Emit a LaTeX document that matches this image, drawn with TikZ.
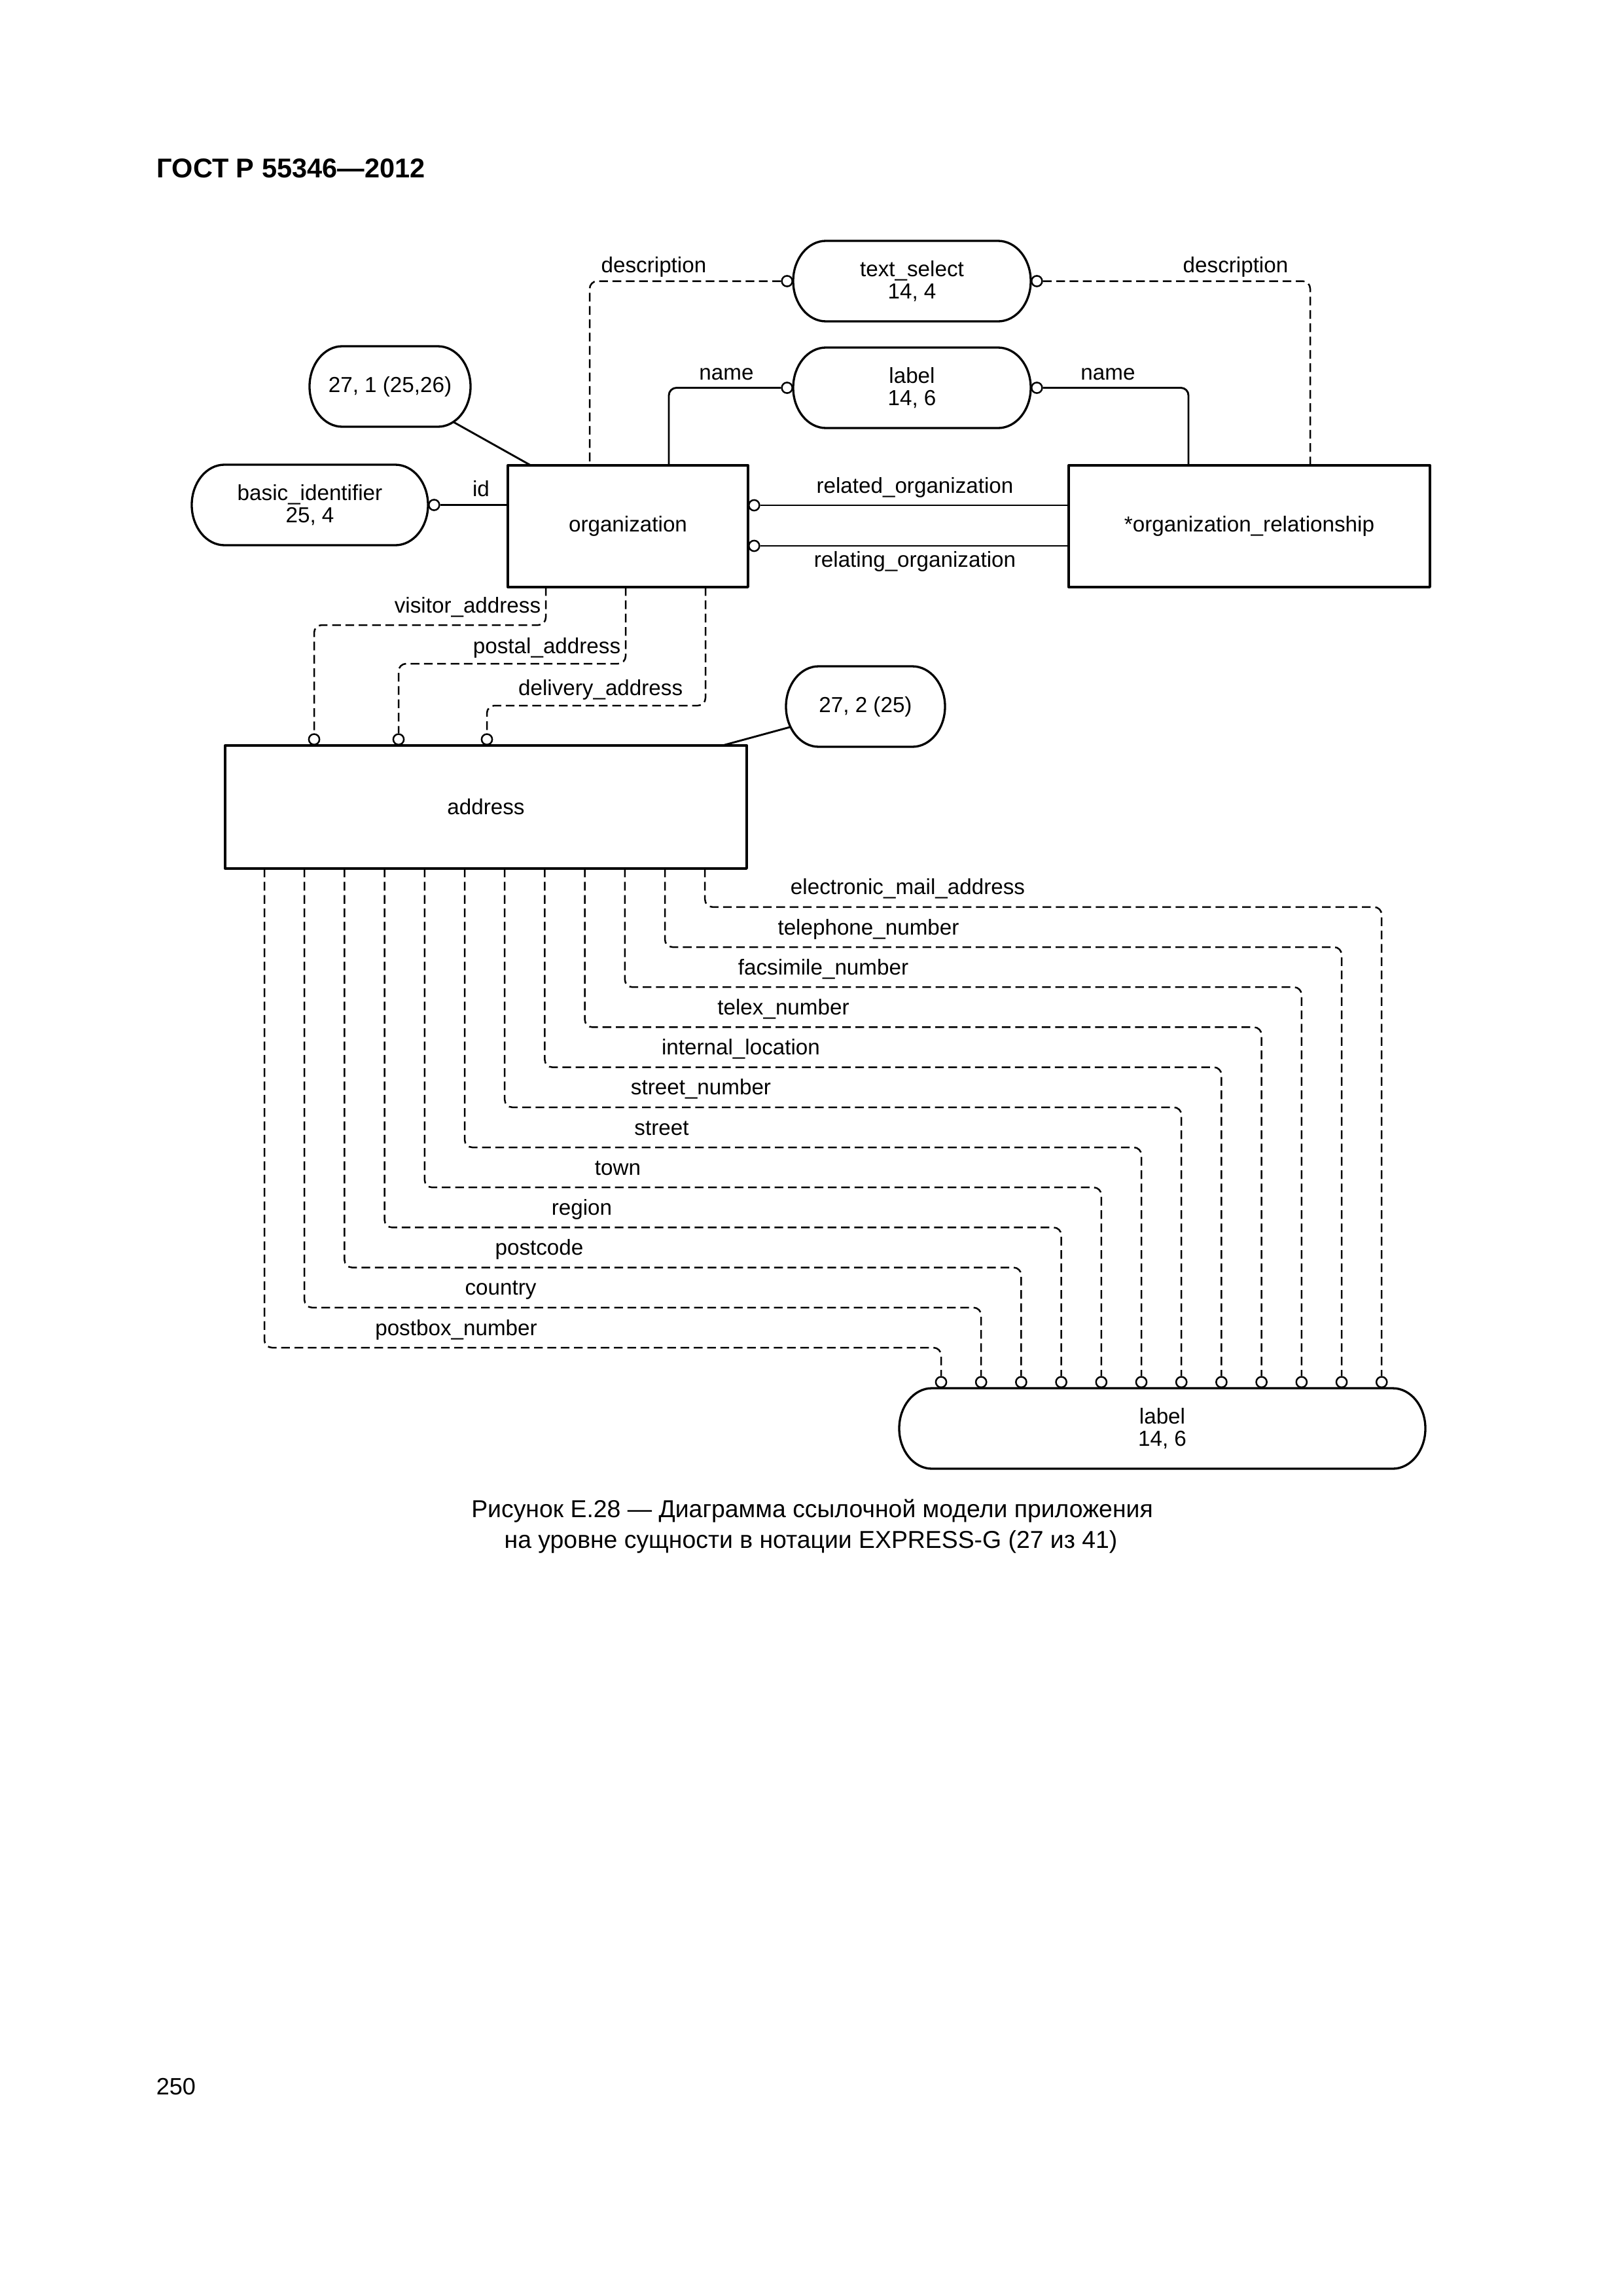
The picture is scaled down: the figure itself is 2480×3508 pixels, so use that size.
\documentclass[tikz,border=0pt]{standalone}
\usepackage{fontspec}
\setmainfont{Liberation Sans}
\usepackage{tikz}
\usetikzlibrary{calc}
\definecolor{ink}{HTML}{000000}
\newcommand\px{0.084677mm}
\newcommand\lblfont{\fontsize{8}{8.2}\selectfont}
\newcommand\stadrx{4.234mm}
\newcommand\stadry{5.208mm}
\tikzset{
  figbase/.style={
    x=0.084677mm, y=-0.084677mm,
    color=ink,
    line join=round,
  },
  entbox/.style={draw=ink, line width=0.8pt, inner sep=0pt, outer sep=0pt,
    minimum height=186*\px, font=\lblfont, align=center},
  stadbox/.style={inner sep=0pt, outer sep=0pt, minimum height=123*\px,
    font=\lblfont, align=center},
  stadline/.style={draw=ink, line width=0.8pt},
  optc/.style={circle, draw=ink, fill=white, line width=0.6pt,
    inner sep=0pt, minimum size=3.9pt},
  rel/.style={line width=0.7pt, draw=ink, rounded corners=2.8pt},
  reld/.style={line width=0.6pt, draw=ink, dash pattern=on 3.2pt off 1.7pt,
    rounded corners=2.8pt},
  lab/.style={font=\lblfont, inner sep=0pt, text=ink},
  capt/.style={font=\fontsize{9}{11.3}\selectfont, inner sep=0pt, text=ink},
}
\begin{document}
\begin{tikzpicture}[figbase]
  \useasboundingbox (0,0) rectangle (2480,3508);

  \node[anchor=base west, inner sep=0pt, font=\fontsize{10}{12}\selectfont\bfseries] (hdr)
    at (239,271) {ГОСТ Р 55346—2012};

  % entities
  \node[entbox, minimum width=367*\px] (org) at (959.5,804) {organization};
  \node[entbox, minimum width=552*\px] (orgrel) at (1909,804) {*organization\_relationship};
  \node[entbox, minimum width=797*\px, minimum height=188*\px] (addr) at (742.5,1233) {address};

  % types and page references
  \node[stadbox, minimum width=363*\px] (txsel) at (1393.5,429.5) {text\_select\\14, 4};
  \node[stadbox, minimum width=363*\px] (lbltop) at (1393.5,592.5) {label\\14, 6};
  \node[stadbox, minimum width=246*\px] (pgref1) at (596,590.5) {27, 1 (25,26)};
  \node[stadbox, minimum width=361*\px] (basid) at (473.5,771.5) {basic\_identifier\\25, 4};
  \node[stadbox, minimum width=243*\px] (pgref2) at (1322.5,1079.5) {27, 2 (25)};
  \node[stadbox, minimum width=804*\px] (lblbot) at (1776,2182.5) {label\\14, 6};
  \foreach \nd in {txsel,lbltop,pgref1,basid,pgref2,lblbot}
    \draw[stadline] ($(\nd.north west)+(50,0)$) -- ($(\nd.north east)+(-50,0)$)
      arc[start angle=90, end angle=-90, x radius=\stadrx, y radius=\stadry]
      -- ($(\nd.south west)+(50,0)$)
      arc[start angle=270, end angle=90, x radius=\stadrx, y radius=\stadry] -- cycle;

  % optional ends
  \node[optc, anchor=east] (dscl) at (txsel.west) {};
  \node[optc, anchor=west] (dscr) at (txsel.east) {};
  \node[optc, anchor=east] (nml) at (lbltop.west) {};
  \node[optc, anchor=west] (nmr) at (lbltop.east) {};
  \node[optc, anchor=west] (idc) at (basid.east) {};
  \node[optc, anchor=west] (rlt) at ($(org.east)+(0,-32)$) {};
  \node[optc, anchor=west] (rlg) at ($(org.east)+(0,30)$) {};
  \node[optc, anchor=south] (vis) at ($(addr.north west)+(136,0)$) {};
  \node[optc, anchor=south] (pst) at ($(addr.north west)+(265,0)$) {};
  \node[optc, anchor=south] (dlv) at ($(addr.north west)+(400,0)$) {};

  \draw[reld] (dscl.west) -| ($(org.north west)+(125,0)$);
  \draw[reld] (dscr.east) -| ($(orgrel.north west)+(369,0)$);
  \draw[rel] (nml.west) -| ($(org.north west)+(246,0)$);
  \draw[rel] (nmr.east) -| ($(orgrel.north west)+(183,0)$);
  \draw[rel] (idc.east) -- (idc.east -| org.west);
  \draw[rel] (rlt.east) -- (rlt.east -| orgrel.west);
  \draw[rel] (rlg.east) -- (rlg.east -| orgrel.west);
  \draw[rel, shorten <=9.38mm] (pgref1.center) -- ($(org.north west)+(35,0)$);
  \draw[rel, shorten <=10.05mm] (pgref2.center) -- ($(addr.north west)+(760,0)$);
  \draw[reld] ($(org.south west)+(58,0)$) -- ++(0,58) -| (vis.north);
  \draw[reld] ($(org.south west)+(180,0)$) -- ++(0,117) -| (pst.north);
  \draw[reld] ($(org.south west)+(302,0)$) -- ++(0,181) -| (dlv.north);

  \node[lab, anchor=base] (dscllab) at (999,416) {description};
  \node[lab, anchor=base] (dscrlab) at (1888,416) {description};
  \node[lab, anchor=base] (nmllab) at (1110,580) {name};
  \node[lab, anchor=base] (nmrlab) at (1693,580) {name};
  \node[lab, anchor=base] (idlab) at (735,758) {id};
  \node[lab, anchor=base] (rltlab) at (1398,753) {related\_organization};
  \node[lab, anchor=base] (rlglab) at (1398,866) {relating\_organization};
  \node[lab, anchor=base east] (vislab) at (827,936) {visitor\_address};
  \node[lab, anchor=base east] (pstlab) at (949,998) {postal\_address};
  \node[lab, anchor=base east] (dlvlab) at (1044,1062) {delivery\_address};

  % address attributes to label
  \foreach \i/\attr/\lx in {0/postbox\_number/697, 1/country/765, 2/postcode/824,
      3/region/889, 4/town/944, 5/street/1011, 6/street\_number/1071,
      7/internal\_location/1132, 8/telex\_number/1197, 9/facsimile\_number/1258,
      10/telephone\_number/1327, 11/electronic\_mail\_address/1387} {
    \node[optc, anchor=south] (tgt\i) at ($(lblbot.north west)+({64+61.2*\i},0)$) {};
    \draw[reld] ($(addr.south west)+({60+61.2*\i},0)$) -- ++(0,{732-61.2*\i}) -| (tgt\i.north);
    \node[lab, anchor=base] (attr\i) at ({\lx},{2040-61.2*\i}) {\attr};
  }

  \node[capt, anchor=base] (cap1) at (1241,2318)
    {Рисунок Е.28 — Диаграмма ссылочной модели приложения};
  \node[capt, anchor=base] (cap2) at (1239,2365)
    {на уровне сущности в нотации EXPRESS-G (27 из 41)};
  \node[anchor=base west, inner sep=0pt, font=\fontsize{8.7}{10}\selectfont] (pgno)
    at (238,3200) {250};
\end{tikzpicture}
\end{document}
